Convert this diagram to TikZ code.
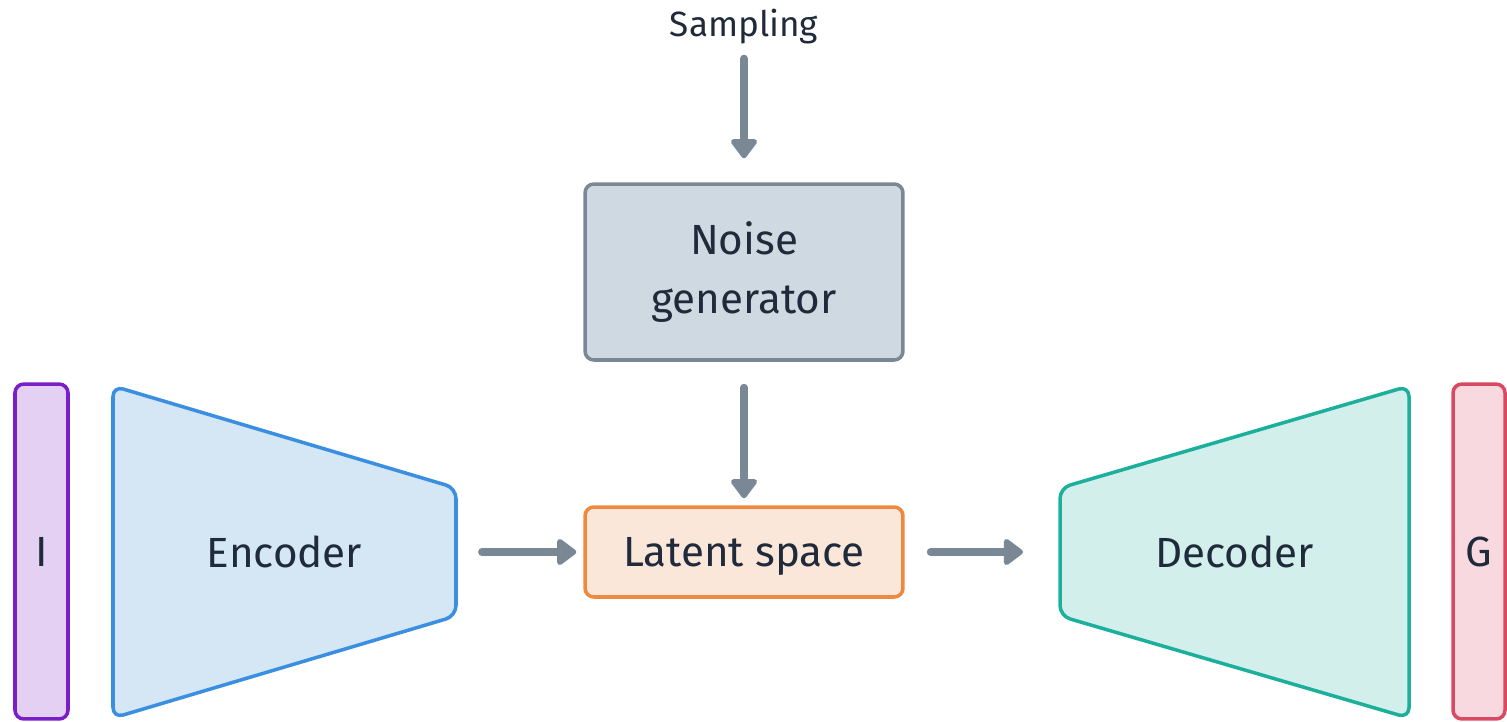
\documentclass[tikz,border=0pt]{standalone}
\usepackage{fontspec}
\setmainfont{Fira Sans}
\usetikzlibrary{arrows.meta}
\definecolor{inktxt}{HTML}{1F2A3A}
\definecolor{flowgrey}{HTML}{7A8896}
\definecolor{inpline}{HTML}{7A1FC7}\definecolor{inpfill}{HTML}{E3D0F3}
\definecolor{encline}{HTML}{3B8FE0}\definecolor{encfill}{HTML}{D5E6F5}
\definecolor{latline}{HTML}{EE8A40}\definecolor{latfill}{HTML}{FBE6DA}
\definecolor{noiline}{HTML}{7A8896}\definecolor{noifill}{HTML}{CFD9E2}
\definecolor{decline}{HTML}{1CAF9B}\definecolor{decfill}{HTML}{D2EFEC}
\definecolor{outline}{HTML}{D94A62}\definecolor{outfill}{HTML}{F7D9DF}

\begin{document}
\begin{tikzpicture}[x=0.02cm,y=-0.02cm,
    every node/.style={text=inktxt,font=\fontsize{24}{34}\selectfont},
    box/.style={rounded corners=5pt,line width=2pt,inner sep=0pt,align=center},
    flow/.style={draw=flowgrey,line width=4.5pt,line cap=round,
        -{Triangle[length=12pt,width=17pt,round]}}]
    \useasboundingbox (0,0) rectangle (1507,721);

    % input and output strips
    \node[box,draw=inpline,fill=inpfill,minimum width=1.06cm,minimum height=6.7cm] (img) at (41.5,551.5) {I};
    \node[box,draw=outline,fill=outfill,minimum width=1.04cm,minimum height=6.7cm] (gen) at (1479,551.5) {G};

    % encoder / decoder
    \draw[rounded corners=6pt,line width=2pt,draw=encline,fill=encfill]
        (113,386) -- (456,488) -- (456,616) -- (113,718) -- cycle;
    \node (enc) at (284.5,552) {Encoder};
    \coordinate (encout) at (456,552);
    \draw[rounded corners=6pt,line width=2pt,draw=decline,fill=decfill]
        (1409,386) -- (1060,488) -- (1060,616) -- (1409,718) -- cycle;
    \node (dec) at (1234.5,552) {Decoder};
    \coordinate (decin) at (1060,552);

    % middle column
    \node[box,draw=latline,fill=latfill,minimum width=6.36cm,minimum height=1.8cm,text depth=0pt] (lat) at (744,552) {Latent space};
    \node[box,draw=noiline,fill=noifill,minimum width=6.36cm,minimum height=3.52cm] (noise) at (744,272) {Noise\\generator};
    \node[font=\fontsize{20}{24}\selectfont] (samp) at (744,27) {Sampling};

    \draw[flow,shorten <=0.16cm,shorten >=0.48cm] (samp) -- (noise);
    \draw[flow,shorten <=0.52cm,shorten >=0.14cm] (noise) -- (lat);
    \draw[flow,shorten <=0.52cm,shorten >=0.14cm] (encout) -- (lat);
    \draw[flow,shorten <=0.52cm,shorten >=0.74cm] (lat) -- (decin);
\end{tikzpicture}
\end{document}
